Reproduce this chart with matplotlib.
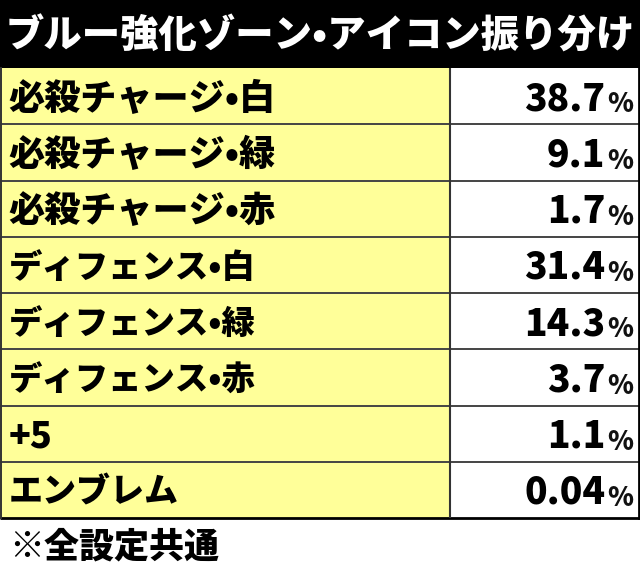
import matplotlib
matplotlib.use("Agg")
import matplotlib.pyplot as plt
from matplotlib.patches import Rectangle

plt.rcParams['font.family'] = ['Noto Sans CJK JP', 'DejaVu Sans']

title = "ブルー強化ゾーン•アイコン振り分け"
footnote = "※全設定共通"
categories = ["必殺チャージ•白", "必殺チャージ•緑", "必殺チャージ•赤",
              "ディフェンス•白", "ディフェンス•緑", "ディフェンス•赤",
              "+5", "エンブレム"]
values = ["38.7", "9.1", "1.7", "31.4", "14.3", "3.7", "1.1", "0.04"]

W, H = 640, 565
TOP, ROW_H, SPLIT = 68, 56.25, 450
YELLOW = "#ffff99"
label_sizes = [26, 26, 26, 24, 24, 24, 26, 24.5]
HEAVY = 900

fig = plt.figure(figsize=(W / 100, H / 100), dpi=100)
ax = fig.add_axes([0, 0, 1, 1])
ax.set_xlim(0, W)
ax.set_ylim(H, 0)
ax.axis("off")

ax.add_patch(Rectangle((0, 0), W, TOP, fc="black", ec="none"))
ax.text(W / 2, 33, title, color="white", fontsize=27.6, fontweight=HEAVY,
        ha="center", va="center_baseline")

for i, (cat, val) in enumerate(zip(categories, values)):
    y = TOP + i * ROW_H
    ax.add_patch(Rectangle((0, y), SPLIT, ROW_H, fc=YELLOW, ec="none"))
    ax.add_patch(Rectangle((SPLIT, y), W - SPLIT, ROW_H, fc="white", ec="none"))
    ymid = y + ROW_H / 2 - 1
    ax.text(8.5, ymid, cat, fontsize=label_sizes[i], fontweight=HEAVY, color="black",
            ha="left", va="center_baseline")
    ax.text(605.5, ymid, val, fontsize=26.8, fontweight=HEAVY, color="black",
            ha="right", va="center_baseline")
    ax.text(633, ymid + 6, "%", fontsize=19, fontweight=HEAVY, color="#111111",
            ha="right", va="center_baseline")
    if i:
        ax.plot([0, W], [y, y], color="#444444", lw=1.4, solid_capstyle="butt")

bottom = TOP + len(categories) * ROW_H
ax.plot([0, W], [bottom, bottom], color="black", lw=2, solid_capstyle="butt")
ax.plot([SPLIT, SPLIT], [TOP, bottom], color="#333333", lw=1.5, solid_capstyle="butt")
ax.plot([0.7, 0.7], [TOP, bottom], color="#333333", lw=1.4)
ax.plot([W - 1, W - 1], [TOP, bottom], color="black", lw=2)
ax.text(9, 543, footnote, fontsize=25.2, fontweight=HEAVY, color="black",
        ha="left", va="center_baseline")

fig.savefig("out.png", dpi=100)
